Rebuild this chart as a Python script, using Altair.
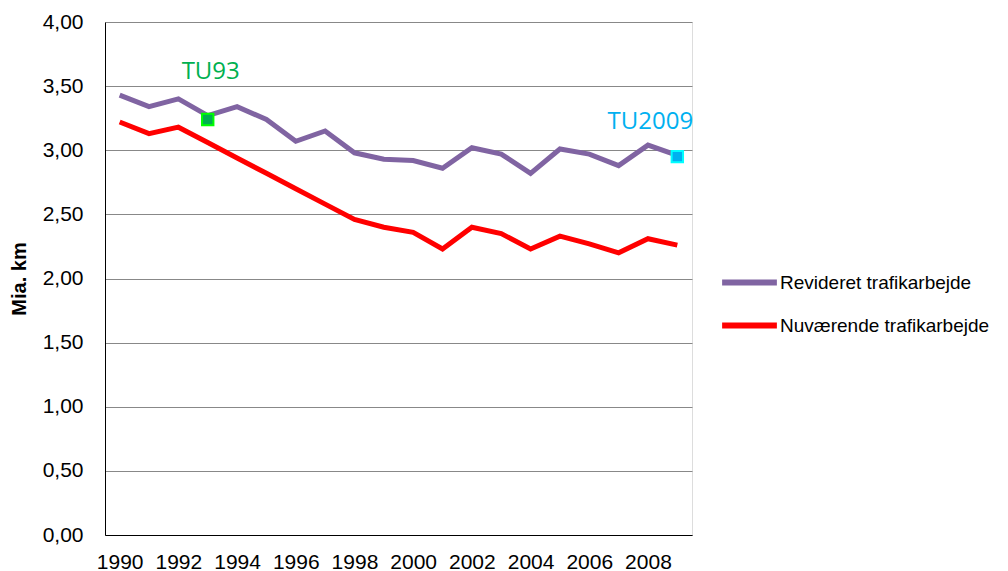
import altair as alt
import pandas as pd

years = list(range(1990, 2010))
revideret = [3.43, 3.34, 3.40, 3.27, 3.34, 3.24, 3.07, 3.15, 2.98, 2.93,
             2.92, 2.86, 3.02, 2.97, 2.82, 3.01, 2.97, 2.88, 3.04, 2.96]
nuvaerende = [3.22, 3.13, 3.18, 3.06, 2.94, 2.82, 2.70, 2.58, 2.46, 2.40,
              2.36, 2.23, 2.40, 2.35, 2.23, 2.33, 2.27, 2.20, 2.31, 2.26]
series_names = ["Revideret trafikarbejde", "Nuværende trafikarbejde"]
series_colors = ["#8064A2", "#FF0000"]

marker_years = [1993, 2009]
marker_values = [3.24, 2.95]
marker_labels = ["TU93", "TU2009"]
marker_fill = ["#00B050", "#00B0F0"]
marker_stroke = ["#00FF00", "#00FFFF"]
label_values = [3.61, 3.22]

rows = []
for name, vals in zip(series_names, [revideret, nuvaerende]):
    for y, v in zip(years, vals):
        rows.append({"year": y, "value": v, "series": name})
df = pd.DataFrame(rows)

mdf = pd.DataFrame({"year": marker_years, "value": marker_values,
                    "label": marker_labels, "fill": marker_fill,
                    "stroke": marker_stroke, "labelvalue": label_values})

FONT = "Liberation Sans"
FS = 21

x_enc = alt.X("year:O", scale=alt.Scale(domain=years, paddingInner=0, paddingOuter=0),
              axis=alt.Axis(values=[y for y in years if y % 2 == 0], title=None,
                            labelAngle=0, ticks=False, domainColor="#000000",
                            labelFont=FONT, labelFontSize=FS,
                            labelColor="#000000", labelPadding=16, grid=False))
y_scale = alt.Scale(domain=[0, 4], nice=False)

lines = alt.Chart(df).mark_line(strokeWidth=5, strokeJoin="miter").encode(
    x=x_enc,
    y=alt.Y("value:Q", scale=y_scale,
            axis=alt.Axis(values=[0, 0.5, 1, 1.5, 2, 2.5, 3, 3.5, 4],
                          labelExpr="replace(format(datum.value, '.2f'), '.', ',')",
                          title="Mia. km", titleFont=FONT, titleFontSize=20,
                          titleFontWeight="bold", titleColor="#000000", titlePadding=13,
                          ticks=False, domainColor="#000000", gridColor="#888888",
                          labelFont=FONT, labelFontSize=FS,
                          labelColor="#000000", labelPadding=22)),
    color=alt.Color("series:N", scale=alt.Scale(domain=series_names, range=series_colors),
                    sort=series_names,
                    legend=alt.Legend(title=None, orient="none", legendX=614, legendY=230,
                                      symbolType="stroke", symbolSize=3000,
                                      symbolStrokeWidth=6, labelFont=FONT,
                                      labelFontSize=19, labelColor="#000000",
                                      labelLimit=400, rowPadding=-2, labelOffset=0)),
)

markers = alt.Chart(mdf).mark_point(shape="square", filled=True, size=130,
                                    strokeWidth=2, opacity=1).encode(
    x="year:O",
    y="value:Q",
    fill=alt.Fill("fill:N", scale=None),
    stroke=alt.Stroke("stroke:N", scale=None),
)

labels1 = alt.Chart(mdf[mdf.label == "TU93"]).mark_text(
    font="Open Sans", fontSize=24, align="center", baseline="middle", dx=3).encode(
    x="year:O", y="labelvalue:Q", text="label:N", color=alt.Color("fill:N", scale=None))
labels2 = alt.Chart(mdf[mdf.label == "TU2009"]).mark_text(
    font="Open Sans", fontSize=24, align="center", baseline="middle", dx=-27).encode(
    x="year:O", y="labelvalue:Q", text="label:N", color=alt.Color("fill:N", scale=None))

chart = alt.layer(lines, markers, labels1, labels2).properties(
    width=587, height=513,
    autosize=alt.AutoSizeParams(type="none"),
    padding={"left": 97, "top": 14, "right": 300, "bottom": 36},
).configure_view(stroke=None).configure(background="#FFFFFF")

chart.save("out.html", embed_options={"renderer": "svg", "actions": False})
